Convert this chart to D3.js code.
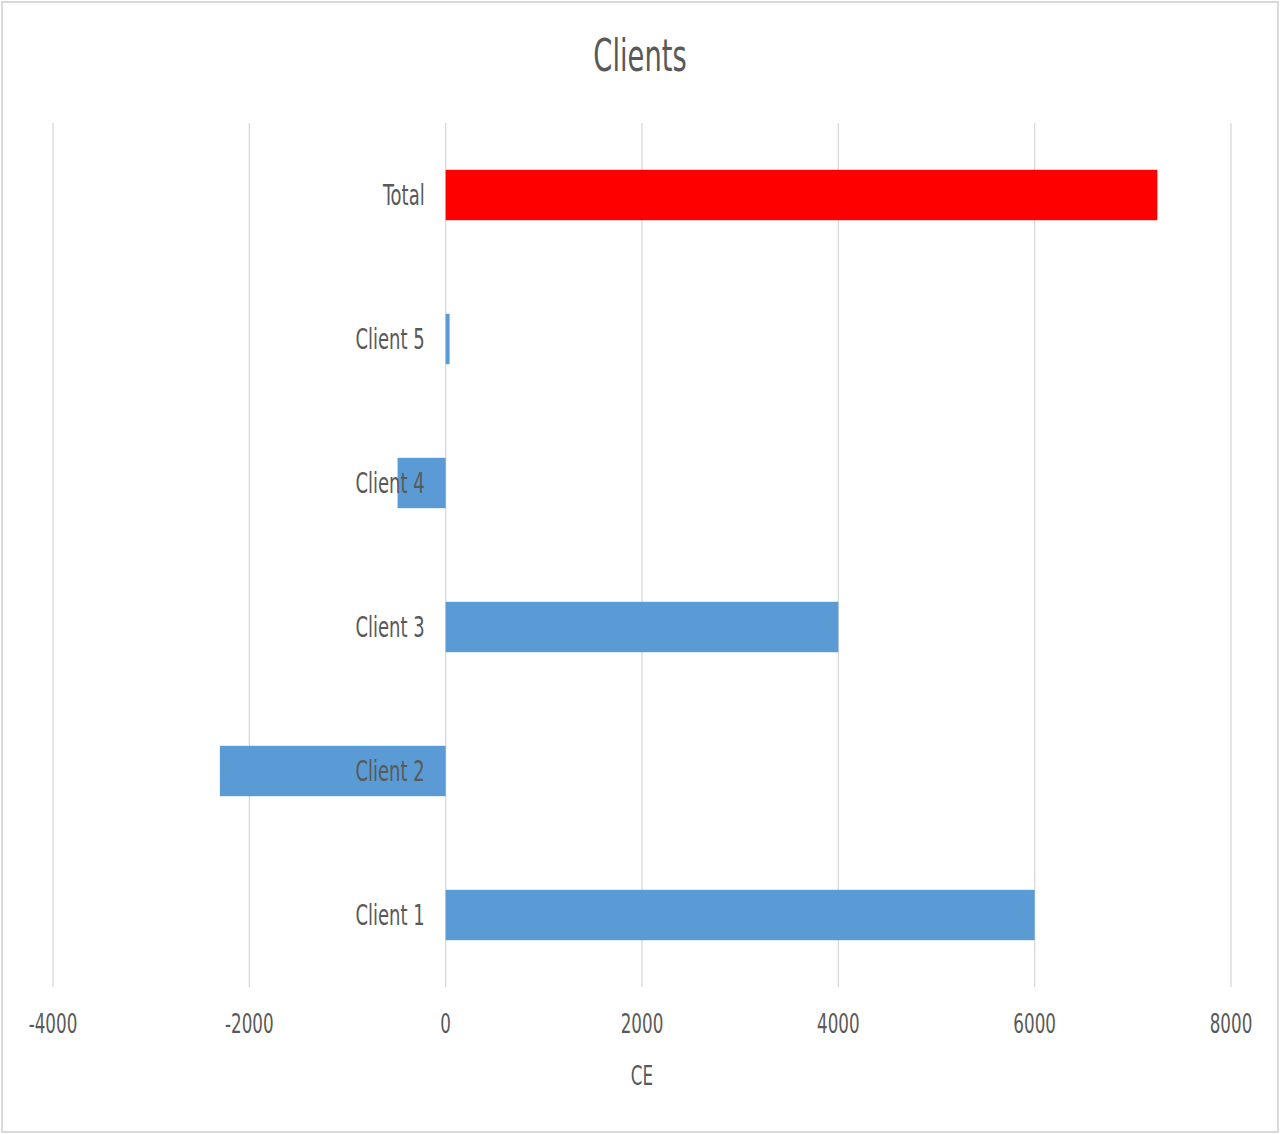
<!DOCTYPE html>
<html>
<head>
<meta charset="utf-8">
<script src="https://cdn.jsdelivr.net/npm/d3@7"></script>
<style>
  html, body { margin: 0; padding: 0; background: #fff; }
  svg text { font-family: "Liberation Sans Narrow", "DejaVu Sans Condensed", "Liberation Sans", sans-serif; }
</style>
</head>
<body>
<svg id="chart" width="1280" height="1134"></svg>
<script>
// Client contributions (CE), bottom to top
const categories = ["Client 1", "Client 2", "Client 3", "Client 4", "Client 5", "Total"];
const values = [6000, -2300, 4000, -490, 40, 7250];
const tickValues = [-4000, -2000, 0, 2000, 4000, 6000, 8000];
const title = "Clients";
const axisTitle = "CE";

const W = 1280, H = 1134;
const plot = { left: 53, right: 1231, top: 123, bottom: 987 };
const textColor = "#595959";
const squeeze = 0.69; // horizontal condensing of all labels

const svg = d3.select("#chart");

// outer chart frame
svg.append("rect")
  .attr("x", 2).attr("y", 2)
  .attr("width", W - 4).attr("height", H - 4)
  .attr("fill", "#fff")
  .attr("stroke", "#d9d9d9").attr("stroke-width", 2);

const x = d3.scaleLinear().domain([-4000, 8000]).range([plot.left, plot.right]);
const y = d3.scaleBand()
  .domain(categories.slice().reverse())
  .range([plot.top, plot.bottom])
  .paddingInner(0.65).paddingOuter(0.325);

// vertical gridlines
svg.append("g")
  .selectAll("line")
  .data(tickValues)
  .join("line")
  .attr("x1", d => x(d)).attr("x2", d => x(d))
  .attr("y1", plot.top).attr("y2", plot.bottom)
  .attr("stroke", "#d9d9d9").attr("stroke-width", 1.3);

// bars
svg.append("g")
  .selectAll("rect")
  .data(categories.map((c, i) => ({ c, v: values[i] })))
  .join("rect")
  .attr("x", d => Math.min(x(0), x(d.v)))
  .attr("width", d => Math.abs(x(d.v) - x(0)))
  .attr("y", d => y(d.c))
  .attr("height", y.bandwidth())
  .attr("fill", d => d.c === "Total" ? "#ff0000" : "#5b9bd5");

// helper: condensed text anchored at (tx, ty)
function label(g, tx, ty, str, size, anchor) {
  return g.append("text")
    .attr("transform", `translate(${tx},${ty}) scale(${squeeze},1)`)
    .attr("text-anchor", anchor)
    .attr("font-size", size)
    .attr("fill", textColor)
    .text(str);
}

// category labels, right-aligned left of zero line
const catG = svg.append("g");
categories.forEach(c => {
  label(catG, x(0) - 21, y(c) + y.bandwidth() / 2 + 10, c, 29, "end");
});

// x-axis tick labels (plain hyphen minus)
const axisG = svg.append("g");
tickValues.forEach(t => {
  label(axisG, x(t), plot.bottom + 46, String(t), 27, "middle");
});

// axis title
label(svg, (plot.left + plot.right) / 2, plot.bottom + 98, axisTitle, 27, "middle");

// chart title
label(svg, W / 2, 71, title, 44, "middle");
</script>
</body>
</html>
